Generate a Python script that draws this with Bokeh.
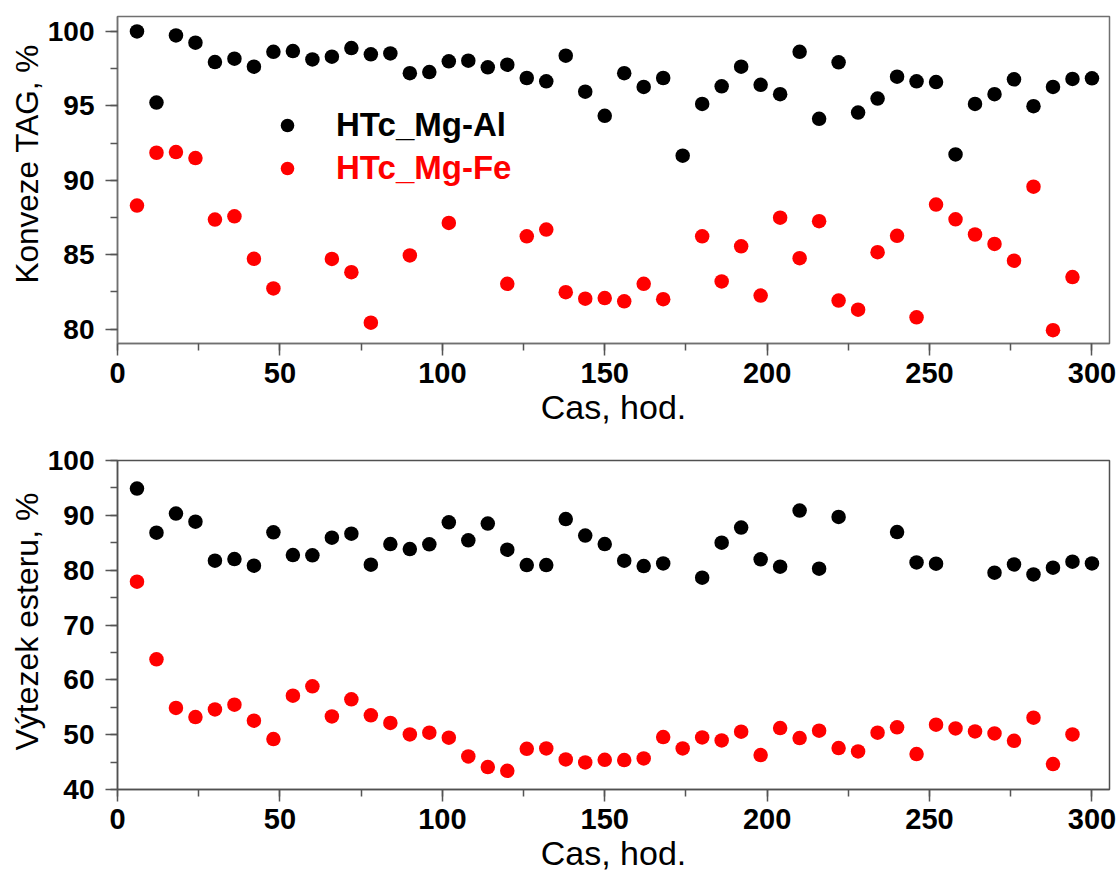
from bokeh.plotting import figure
from bokeh.models import Range1d, SingleIntervalTicker, Legend, LegendItem, Title
from bokeh.layouts import column
from bokeh.embed import file_html
from bokeh.resources import INLINE

# ---------------- data ----------------
# Top panel: TAG conversion (%)
tag_al_x = [6, 12, 18, 24, 30, 36, 42, 48, 54, 60, 66, 72, 78, 84,
            90, 96, 102, 108, 114, 120, 126, 132, 138, 144, 150, 156, 162, 168, 174, 180, 186, 192, 198,
            204, 210, 216, 222, 228, 234, 240, 246, 252, 258, 264, 270, 276, 282, 288, 294, 300]
tag_al_y = [100.0, 95.22, 99.73, 99.24, 97.94, 98.17, 97.63, 98.63, 98.68, 98.12, 98.30, 98.88, 98.46, 98.52,
            97.19, 97.27, 97.99, 98.03, 97.59, 97.76, 96.87, 96.65, 98.37, 95.95, 94.33, 97.19, 96.27, 96.87,
            91.65, 95.13, 96.31, 97.63, 96.41,
            95.78, 98.63, 94.13, 97.92, 94.55, 95.49, 96.96, 96.65, 96.60, 91.74, 95.13, 95.78, 96.78, 94.98,
            96.27, 96.81, 96.85]

tag_fe_x = [6, 12, 18, 24, 30, 36, 42, 48, 66, 72, 78, 90, 102, 120, 126, 132, 138, 144, 150, 156, 162, 168,
            180, 186, 192, 198, 204, 210, 216, 222, 228, 234, 240, 246, 252, 258, 264, 270, 276, 282, 288, 294]
tag_fe_y = [88.30, 91.85, 91.90, 91.49, 87.36, 87.58, 84.73, 82.74, 84.72, 83.83, 80.44, 84.95, 87.14, 83.05,
            86.24, 86.69, 82.49, 82.05, 82.09, 81.87, 83.05, 82.02,
            86.24, 83.21, 85.57, 82.26, 87.49, 84.77, 87.25, 81.92, 81.31, 85.17, 86.27, 80.80, 88.37, 87.38,
            86.36, 85.73, 84.60, 89.57, 79.93, 83.50]

# Bottom panel: ester yield (%)
est_al_x = [6, 12, 18, 24, 30, 36, 42, 48, 54, 60, 66, 72, 78, 84,
            90, 96, 102, 108, 114, 120, 126, 132, 138, 144, 150, 156, 162, 168,
            180, 186, 192, 198, 204, 210, 216, 222,
            240, 246, 252, 270, 276, 282, 288, 294, 300]
est_al_y = [94.88, 86.84, 90.32, 88.85, 81.73, 82.02, 80.81, 86.90, 82.75, 82.70, 85.93, 86.66, 81.00, 84.76,
            83.85, 84.71, 88.73, 85.44, 88.49, 83.74, 80.93, 80.93, 89.33, 86.30, 84.76, 81.73, 80.75, 81.23,
            78.62, 85.02, 87.76, 81.97, 80.63, 90.86, 80.27, 89.70,
            86.95, 81.42, 81.18, 79.54, 81.05, 79.23, 80.45, 81.55, 81.23]

est_fe_x = [6, 12, 18, 24, 30, 36, 42, 48, 54, 60, 66, 72, 78, 84,
            90, 96, 102, 108, 114, 120, 126, 132, 138, 144, 150, 156, 162, 168, 174, 180, 186, 192, 198,
            204, 210, 216, 222, 228, 234, 240, 246, 252, 258, 264, 270, 276, 282, 288, 294]
est_fe_y = [77.89, 63.75, 54.87, 53.22, 54.61, 55.47, 52.55, 49.20, 57.12, 58.82, 53.33, 56.44, 53.52, 52.13,
            50.05, 50.35, 49.44, 46.03, 44.09, 43.41, 47.43, 47.49, 45.48, 44.93, 45.42, 45.37, 45.66, 49.57,
            47.49, 49.50, 48.95, 50.54, 46.27,
            51.21, 49.39, 50.72, 47.56, 46.94, 50.35, 51.33, 46.46, 51.82, 51.14, 50.59, 50.23, 48.89, 53.10,
            44.64, 50.05]

series_labels = ["HTc_Mg-Al", "HTc_Mg-Fe"]
series_colors = ["#000000", "#ff0000"]
x_title = "Cas, hod."
y_title_top = "Konveze TAG, %"
y_title_bottom = "Výtezek esteru, %"

FONT = "Liberation Sans"
MS = 14.5


def style(p, y_interval, frame_color):
    p.xgrid.visible = False
    p.ygrid.visible = False
    p.outline_line_color = frame_color
    p.outline_line_width = 1.5
    p.background_fill_color = "white"
    p.border_fill_color = "white"
    p.xaxis.ticker = SingleIntervalTicker(interval=50, num_minor_ticks=2)
    p.yaxis.ticker = SingleIntervalTicker(interval=y_interval, num_minor_ticks=2)
    for ax in (p.xaxis[0], p.yaxis[0]):
        ax.axis_line_color = frame_color
        ax.axis_line_width = 1.5
        ax.major_tick_line_color = "#555555"
        ax.minor_tick_line_color = "#555555"
        ax.major_tick_line_width = 1.5
        ax.minor_tick_line_width = 1.5
        ax.major_tick_in = 0
        ax.major_tick_out = 12
        ax.minor_tick_in = 0
        ax.minor_tick_out = 7
        ax.major_label_text_font = FONT
        ax.major_label_text_font_style = "bold"
        ax.major_label_text_color = "black"
    p.xaxis.major_label_text_font_size = "29px"
    p.yaxis.major_label_text_font_size = "28px"
    p.xaxis.major_label_standoff = 7
    p.yaxis.major_label_standoff = 11
    p.xaxis.axis_label = x_title
    p.xaxis.axis_label_text_font = FONT
    p.xaxis.axis_label_text_font_style = "normal"
    p.xaxis.axis_label_text_font_size = "34px"
    p.xaxis.axis_label_text_color = "black"
    p.xaxis.axis_label_standoff = 2


def y_title(text, size, offset):
    # left-side title, anchored at its start, `offset` px above the frame bottom
    return Title(text=text, align="left", offset=offset, standoff=0, text_font=FONT,
                 text_font_size=size, text_font_style="normal", text_color="black")


# ---------------- top panel ----------------
p1 = figure(width=1120, height=443, output_backend="svg", toolbar_location=None,
            x_range=Range1d(0, 305.4), y_range=Range1d(79.04, 101.0),
            min_border_left=117, min_border_right=11, min_border_top=16, min_border_bottom=100)
style(p1, 5, "#707070")
r_al = p1.scatter(tag_al_x, tag_al_y, size=MS, color=series_colors[0], line_color=None)
r_fe = p1.scatter(tag_fe_x, tag_fe_y, size=MS, color=series_colors[1], line_color=None)
p1.add_layout(y_title(y_title_top, "31.5px", 60), "left")

for lab, col, rend, loc in [(series_labels[0], series_colors[0], r_al, (153, 199)),
                            (series_labels[1], series_colors[1], r_fe, (153, 156))]:
    leg = Legend(items=[LegendItem(label=lab, renderers=[rend])], location=loc,
                 glyph_width=34, glyph_height=34, label_height=34, label_standoff=32,
                 padding=0, margin=0, spacing=0,
                 label_text_font=FONT, label_text_font_style="bold", label_text_font_size="33px",
                 label_text_color=col, background_fill_alpha=0, border_line_color=None)
    p1.add_layout(leg, "center")

# ---------------- bottom panel ----------------
p2 = figure(width=1120, height=442, output_backend="svg", toolbar_location=None,
            x_range=Range1d(0, 305.4), y_range=Range1d(40, 100),
            min_border_left=117, min_border_right=11, min_border_top=17, min_border_bottom=96)
style(p2, 10, "#505050")
p2.scatter(est_al_x, est_al_y, size=MS, color=series_colors[0], line_color=None)
p2.scatter(est_fe_x, est_fe_y, size=MS, color=series_colors[1], line_color=None)
p2.add_layout(y_title(y_title_bottom, "32px", 39), "left")

layout = column(p1, p2, spacing=0)
open("out.html", "w").write(file_html(layout, INLINE))
